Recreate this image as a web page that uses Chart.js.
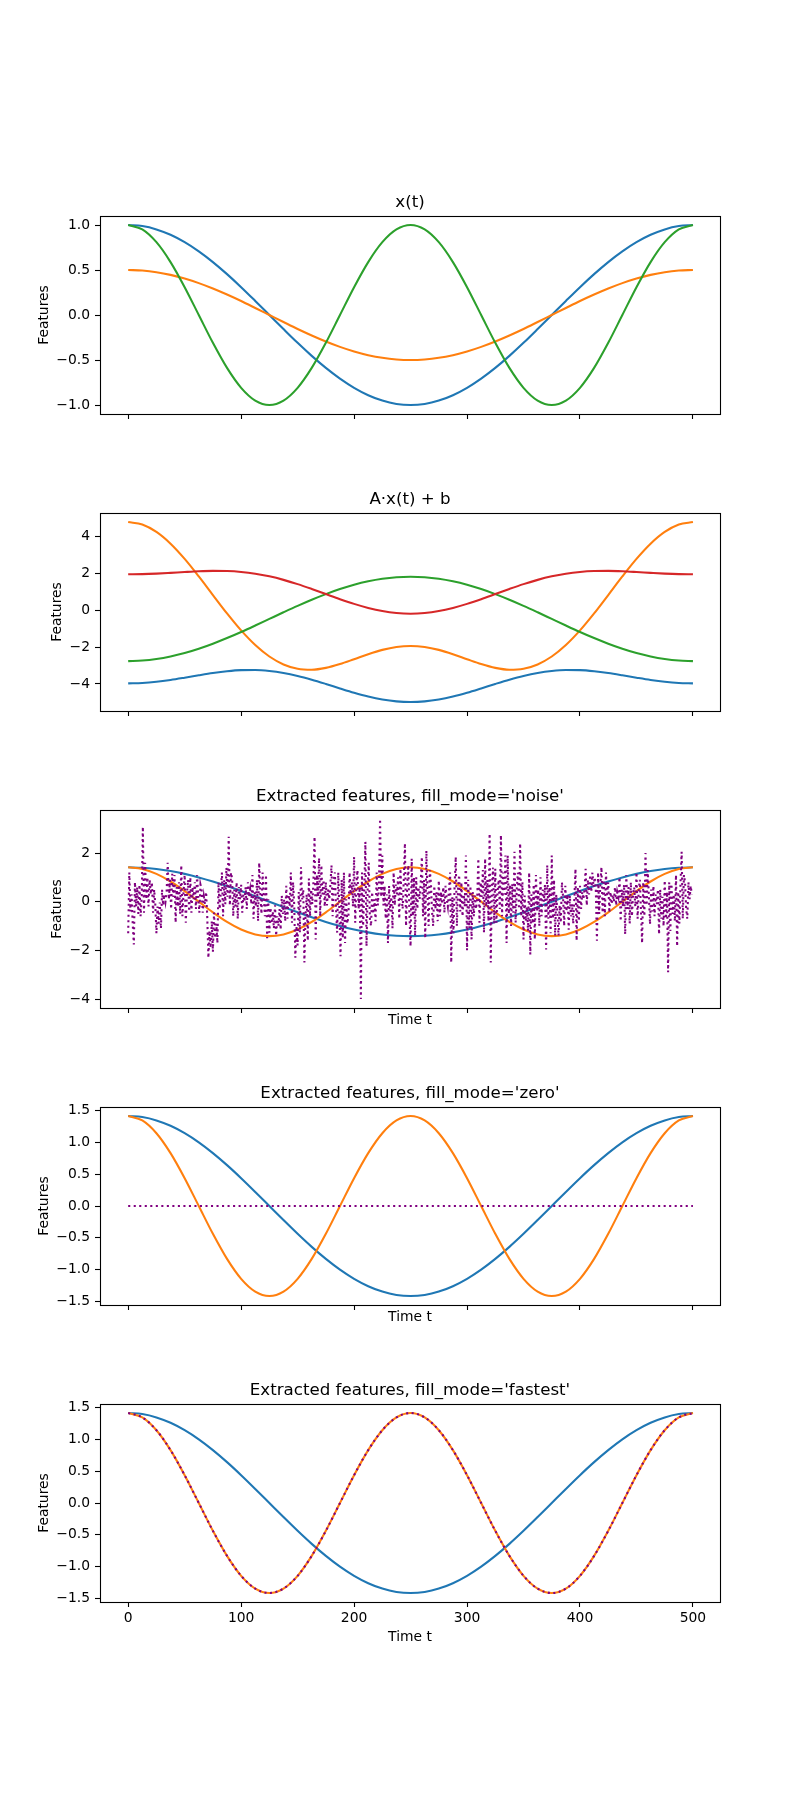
<!DOCTYPE html>
<html>
<head>
<meta charset="utf-8">
<script src="https://cdn.jsdelivr.net/npm/chart.js@4.4.0/dist/chart.umd.min.js"></script>
<style>
html,body{margin:0;padding:0;background:#fff;}
body{width:800px;height:1800px;position:relative;overflow:hidden;}
canvas{position:absolute;left:0;}
</style>
</head>
<body>
<canvas id="c1" width="800" height="254" style="top:176px"></canvas>
<canvas id="c2" width="800" height="254" style="top:473px"></canvas>
<canvas id="c3" width="800" height="262" style="top:770px"></canvas>
<canvas id="c4" width="800" height="262" style="top:1067px"></canvas>
<canvas id="c5" width="800" height="286" style="top:1364px"></canvas>
<script>
// ---------------- data ----------------
const tSmooth = [0,12.5,25,37.5,50,62.5,75,87.5,100,112.5,125,137.5,150,162.5,175,187.5,200,212.5,225,237.5,250,262.5,275,287.5,300,312.5,325,337.5,350,362.5,375,387.5,400,412.5,425,437.5,450,462.5,475,487.5,500];

// x(t)
const xBlue = [1,0.988,0.951,0.891,0.809,0.707,0.588,0.454,0.309,0.156,0,-0.156,-0.309,-0.454,-0.588,-0.707,-0.809,-0.891,-0.951,-0.988,-1,-0.988,-0.951,-0.891,-0.809,-0.707,-0.588,-0.454,-0.309,-0.156,0,0.156,0.309,0.454,0.588,0.707,0.809,0.891,0.951,0.988,1];
const xOrange = [0.5,0.494,0.476,0.446,0.405,0.354,0.294,0.227,0.155,0.078,0,-0.078,-0.155,-0.227,-0.294,-0.354,-0.405,-0.446,-0.476,-0.494,-0.5,-0.494,-0.476,-0.446,-0.405,-0.354,-0.294,-0.227,-0.155,-0.078,0,0.078,0.155,0.227,0.294,0.354,0.405,0.446,0.476,0.494,0.5];
const xGreen = [1,0.951,0.809,0.588,0.309,0,-0.309,-0.588,-0.809,-0.951,-1,-0.951,-0.809,-0.588,-0.309,0,0.309,0.588,0.809,0.951,1,0.951,0.809,0.588,0.309,0,-0.309,-0.588,-0.809,-0.951,-1,-0.951,-0.809,-0.588,-0.309,0,0.309,0.588,0.809,0.951,1];

// A·x(t) + b
const axbBlue = [-3.97,-3.947,-3.882,-3.782,-3.659,-3.528,-3.406,-3.309,-3.252,-3.245,-3.295,-3.403,-3.564,-3.768,-3.999,-4.242,-4.476,-4.682,-4.843,-4.945,-4.98,-4.945,-4.843,-4.682,-4.476,-4.242,-3.999,-3.768,-3.564,-3.403,-3.295,-3.245,-3.252,-3.309,-3.406,-3.528,-3.659,-3.782,-3.882,-3.947,-3.97];
const axbOrange = [4.79,4.652,4.25,3.612,2.787,1.836,0.827,-0.172,-1.095,-1.889,-2.511,-2.941,-3.175,-3.228,-3.129,-2.922,-2.657,-2.384,-2.151,-1.995,-1.94,-1.995,-2.151,-2.384,-2.657,-2.922,-3.129,-3.228,-3.175,-2.941,-2.511,-1.889,-1.095,-0.172,0.827,1.836,2.787,3.612,4.25,4.652,4.79];
const axbGreen = [-2.76,-2.732,-2.648,-2.51,-2.323,-2.089,-1.816,-1.51,-1.178,-0.828,-0.47,-0.112,0.238,0.57,0.876,1.149,1.383,1.57,1.708,1.792,1.82,1.792,1.708,1.57,1.383,1.149,0.876,0.57,0.238,-0.112,-0.47,-0.828,-1.178,-1.51,-1.816,-2.089,-2.323,-2.51,-2.648,-2.732,-2.76];
const axbRed = [1.95,1.96,1.989,2.031,2.077,2.117,2.137,2.128,2.079,1.984,1.84,1.649,1.418,1.156,0.879,0.603,0.346,0.125,-0.046,-0.153,-0.19,-0.153,-0.046,0.125,0.346,0.603,0.879,1.156,1.418,1.649,1.84,1.984,2.079,2.128,2.137,2.117,2.077,2.031,1.989,1.96,1.95];

// extracted features
const featSlow = [1.414,1.397,1.345,1.26,1.144,1.0,0.831,0.642,0.437,0.221,0,-0.221,-0.437,-0.642,-0.831,-1.0,-1.144,-1.26,-1.345,-1.397,-1.414,-1.397,-1.345,-1.26,-1.144,-1.0,-0.831,-0.642,-0.437,-0.221,0,0.221,0.437,0.642,0.831,1.0,1.144,1.26,1.345,1.397,1.414];
const featFast = [1.414,1.345,1.144,0.831,0.437,0,-0.437,-0.831,-1.144,-1.345,-1.414,-1.345,-1.144,-0.831,-0.437,0,0.437,0.831,1.144,1.345,1.414,1.345,1.144,0.831,0.437,0,-0.437,-0.831,-1.144,-1.345,-1.414,-1.345,-1.144,-0.831,-0.437,0,0.437,0.831,1.144,1.345,1.414];
const zeroFill = [0,0,0,0,0,0,0,0,0,0,0,0,0,0,0,0,0,0,0,0,0,0,0,0,0,0,0,0,0,0,0,0,0,0,0,0,0,0,0,0,0];
const fastestFill = [1.414,1.345,1.144,0.831,0.437,0,-0.437,-0.831,-1.144,-1.345,-1.414,-1.345,-1.144,-0.831,-0.437,0,0.437,0.831,1.144,1.345,1.414,1.345,1.144,0.831,0.437,0,-0.437,-0.831,-1.144,-1.345,-1.414,-1.345,-1.144,-0.831,-0.437,0,0.437,0.831,1.144,1.345,1.414];

// noise fill, one value per time step t = 0..499
const noiseFill = [
-1.3,1.2,-0.4,0.3,-0.9, -1.76,0.8,-0.2,0.6,-0.5, 0.7,-0.6,0.2,3.08,-0.45, 1.6,0.1,1.0,-0.2,0.9, 0.3,0.8,-0.45,0.5,-0.1,
-1.3,-0.2,-0.9,-0.03,-1.1, 0.5,-0.15,0.3,0.0,0.4, 1.6,0.1,0.9,-0.3,1.15, 0.2,1.1,-0.86,0.6,-0.2, 0.8,-0.5,1.5,-0.6,0.4,
1.1,-0.86,0.3,0.9,-0.4, 1.0,-0.45,0.6,0.1,0.8, -0.3,1.1,0.2,-0.45,0.7, 0.5,-0.45,0.2,-0.1,0.4, -0.6,-2.31,-1.2,-1.9,-0.8,
-2.06,-0.45,-1.5,-0.9,-1.7, 0.8,-0.3,0.4,1.2,-0.6, 0.9,-0.1,1.4,0.2,2.67, -0.15,1.2,0.95,-0.6,0.5, -0.2,0.8,-0.7,0.6,0.1,
0.7,-0.45,0.3,0.0,0.6, -0.3,0.8,0.2,0.5,-0.1, 1.1,-0.7,0.4,-0.2,0.9, -0.8,1.6,0.3,-0.5,1.2, 0.2,-0.6,1.1,-1.5,0.1,
-1.27,-0.25,-0.9,-0.4,-1.1, -0.15,-1.4,-0.6,-1.0,-0.3, -1.15,0.25,-0.5,0.1,-0.8, 0.65,-0.7,0.3,-0.2,1.2, -0.86,0.8,-0.15,-2.3,-1.0,
-1.8,0.4,-1.27,1.42,0.1, 0.5,-2.5,-0.6,0.3,-1.6, 0.95,-0.6,0.5,-0.1,0.8, 2.67,-1.55,1.1,0.2,1.8, -0.6,1.5,0.3,0.9,-0.2,
0.8,-0.15,0.5,0.1,0.7, 1.5,-0.6,0.9,1.2,-0.3, -1.27,1.2,-0.4,-2.24,0.9, -1.5,1.2,-1.7,0.1,-0.9, -0.6,1.2,0.3,0.8,-0.2,
1.84,-0.86,0.7,1.3,-0.3, 0.6,-4.0,1.2,-1.0,0.4, 2.46,-1.83,0.5,1.6,-0.7, -1.0,0.4,-0.5,0.1,-0.8, 1.2,-0.15,0.6,3.4,0.2,
1.9,-0.15,0.65,-0.7,0.3, -1.7,0.65,-0.4,0.2,-1.1, 1.2,-0.15,0.7,0.3,1.0, -0.7,1.35,0.2,-0.3,0.9, 2.4,-1.0,0.6,1.5,-0.5,
-1.83,1.77,-0.6,1.0,-1.4, 1.0,-0.3,0.6,0.1,0.8, 1.84,-0.6,0.9,-1.5,2.1, 0.3,-1.0,1.3,0.8,-0.4, -1.0,0.65,-0.3,0.4,-0.8,
0.87,-0.6,0.4,-0.1,0.6, -0.45,0.65,0.1,-0.2,0.5, 1.2,-2.5,0.2,-1.3,0.7, 1.84,-1.0,0.5,1.1,-0.4, 0.8,-0.6,0.3,-0.2,1.9,
-2.0,0.9,-1.1,0.65,-1.55, 0.4,-0.6,0.25,-0.3,0.1, 1.77,-0.86,0.8,0.2,1.3, -1.27,1.77,-0.2,0.9,-0.8, 2.8,-2.5,0.6,1.4,-0.9,
1.35,-0.86,0.4,0.9,-0.3, 2.74,-0.6,1.2,0.3,1.9, -1.7,1.9,-0.5,0.7,-1.0, 0.73,-0.45,2.05,-0.86,0.5, 1.2,-0.3,2.4,-0.6,0.8,
-1.55,0.25,-0.8,-0.2,-1.2, 1.2,-2.17,0.3,-0.9,0.7, -1.55,1.1,-0.4,0.5,-1.0, 1.0,-0.6,0.5,0.0,0.7, -1.96,1.5,-0.7,0.6,-1.3,
1.9,-0.7,0.9,-1.4,0.3, -0.5,-1.4,-0.15,-0.86,0.8, 0.2,-1.0,0.65,-0.4,0.3, -1.15,0.25,-0.6,-0.1,-0.9, 0.1,1.35,-1.6,0.6,-0.8,
0.65,-0.3,0.4,0.1,0.5, 1.35,-0.15,0.9,0.3,1.1, 0.4,1.2,0.6,1.0,0.5, -1.6,1.2,-0.5,0.7,1.42, -0.45,0.9,-0.6,1.2,0.2,
0.8,-0.45,0.4,-0.1,0.3, 0.0,0.6,-0.15,0.4,0.2, 1.0,-0.8,0.5,-0.2,0.7, -1.34,1.1,-0.3,0.6,-0.9, 0.8,-0.6,0.3,0.6,-0.2,
1.2,-0.7,0.5,0.9,-0.4, -1.7,0.8,-0.6,2.0,-0.15, 1.3,0.2,-0.93,0.5,-0.4, 0.65,-0.6,0.3,-0.1,0.5, -1.34,0.5,-0.7,0.2,-1.0,
0.87,-0.7,0.4,-2.9,0.8, -1.2,0.73,-0.5,0.3,-0.8, 1.1,-1.83,0.4,-0.9,0.8, 2.05,-0.7,1.1,0.8,-0.3, -0.7,0.8,0.1,0.65,0.3
];

// axes
const xTickValues = [0,100,200,300,400,500];
const yTicksX = [-1.0,-0.5,0.0,0.5,1.0];
const yTicksAxb = [-4,-2,0,2,4];
const yTicksNoise = [-4,-2,0,2];
const yTicksFeat = [-1.5,-1.0,-0.5,0.0,0.5,1.0,1.5];
const titles = ["x(t)", "A\u00b7x(t) + b", "Extracted features, fill_mode='noise'", "Extracted features, fill_mode='zero'", "Extracted features, fill_mode='fastest'"];

// ---------------- drawing ----------------
const FONT = "'DejaVu Sans', sans-serif";
const LW = 2.08;
const DOT = [2.08, 3.44];
const C = {blue:'#1f77b4', orange:'#ff7f0e', green:'#2ca02c', red:'#d62728', purple:'#800080'};
Chart.defaults.color = '#000';
Chart.defaults.font.family = FONT;

const tNoise = noiseFill.map((_, i) => i);
function pts(xs, ys) { return ys.map((y, i) => ({x: xs[i], y: y})); }
function smooth(ys, color, order, dash) {
  return {data: pts(tSmooth, ys), borderColor: color, borderWidth: LW, pointRadius: 0,
    cubicInterpolationMode: 'monotone', fill: false, order: order,
    borderDash: dash || [], borderCapStyle: 'butt', borderJoinStyle: 'round'};
}
function rough(xs, ys, color, order, dash) {
  return {data: pts(xs, ys), borderColor: color, borderWidth: LW, pointRadius: 0,
    tension: 0, fill: false, order: order, borderDash: dash || [], borderCapStyle: 'butt'};
}
const fmt1 = v => (v < 0 ? '\u2212' : '') + Math.abs(v).toFixed(1);
const fmt0 = v => (v < 0 ? '\u2212' : '') + Math.abs(v).toFixed(0);

const framePlugin = {
  id: 'frame',
  afterDatasetsDraw(chart) {
    const a = chart.chartArea, ctx = chart.ctx;
    ctx.save();
    ctx.strokeStyle = '#000';
    ctx.lineWidth = 1.1;
    ctx.strokeRect(Math.round(a.left) + 0.5, Math.round(a.top) + 0.5, Math.round(a.right - a.left), Math.round(a.bottom - a.top));
    ctx.restore();
  }
};

const tickGrid = {display: true, drawOnChartArea: false, drawTicks: true, tickLength: 5, tickWidth: 1.1, tickColor: '#000'};
const tickFont = {family: FONT, size: 13.89, lineHeight: 1.2};

function build(id, o) {
  return new Chart(document.getElementById(id), {
    type: 'line',
    data: {datasets: o.datasets},
    options: {
      responsive: false, animation: false, events: [], devicePixelRatio: 1,
      layout: {padding: {left: 0, right: 80, top: 0, bottom: 0}},
      plugins: {
        legend: {display: false}, tooltip: {enabled: false},
        title: {display: true, text: o.title, fullSize: false, color: '#000',
          font: {family: FONT, size: 16.67, weight: 'normal', lineHeight: 1.2},
          padding: {top: 16.72, bottom: 3.28}}
      },
      scales: {
        x: {type: 'linear', position: 'bottom', min: -24.95, max: 523.95,
          afterBuildTicks: s => { s.ticks = xTickValues.map(v => ({value: v})); },
          afterFit: s => { s.height = o.bottomH; },
          grid: tickGrid, border: {display: false},
          ticks: {display: o.xLabels, padding: 2.8, color: '#000', font: tickFont, maxRotation: 0, autoSkip: false, callback: v => String(v)},
          title: {display: o.xTitle, text: 'Time t', color: '#000', font: tickFont, padding: {top: 0, bottom: o.xTitlePad}}
        },
        y: {type: 'linear', position: 'left', min: o.yMin, max: o.yMax,
          afterBuildTicks: s => { s.ticks = o.yTicks.map(v => ({value: v})); },
          afterFit: s => { s.width = 100; },
          grid: tickGrid, border: {display: false},
          ticks: {padding: 5, color: '#000', font: tickFont, autoSkip: false, callback: o.yFmt},
          title: {display: true, text: 'Features', color: '#000', font: tickFont, padding: {top: o.yTitlePad, bottom: 0}}
        }
      }
    },
    plugins: [framePlugin]
  });
}

build('c1', {title: titles[0], yMin: -1.1, yMax: 1.1, yTicks: yTicksX, yFmt: fmt1, yTitlePad: 35.8,
  xLabels: false, xTitle: false, bottomH: 16, xTitlePad: 0,
  datasets: [smooth(xBlue, C.blue, 3), smooth(xOrange, C.orange, 2), smooth(xGreen, C.green, 1)]});

build('c2', {title: titles[1], yMin: -5.469, yMax: 5.279, yTicks: yTicksAxb, yFmt: fmt0, yTitlePad: 49.1,
  xLabels: false, xTitle: false, bottomH: 16, xTitlePad: 0,
  datasets: [smooth(axbBlue, C.blue, 4), smooth(axbOrange, C.orange, 3), smooth(axbGreen, C.green, 2), smooth(axbRed, C.red, 1)]});

build('c3', {title: titles[2], yMin: -4.37, yMax: 3.77, yTicks: yTicksNoise, yFmt: fmt0, yTitlePad: 49.1,
  xLabels: false, xTitle: true, bottomH: 24, xTitlePad: 3.07,
  datasets: [smooth(featSlow, C.blue, 3), smooth(featFast, C.orange, 2), rough(tNoise, noiseFill, C.purple, 1, DOT)]});

build('c4', {title: titles[3], yMin: -1.5556, yMax: 1.5556, yTicks: yTicksFeat, yFmt: fmt1, yTitlePad: 35.8,
  xLabels: false, xTitle: true, bottomH: 24, xTitlePad: 3.07,
  datasets: [smooth(featSlow, C.blue, 3), smooth(featFast, C.orange, 2), rough(tSmooth, zeroFill, C.purple, 1, DOT)]});

build('c5', {title: titles[4], yMin: -1.5556, yMax: 1.5556, yTicks: yTicksFeat, yFmt: fmt1, yTitlePad: 35.8,
  xLabels: true, xTitle: true, bottomH: 48, xTitlePad: 4.1,
  datasets: [smooth(featSlow, C.blue, 3), smooth(featFast, C.orange, 2), smooth(fastestFill, C.purple, 1, DOT)]});
</script>
</body>
</html>
